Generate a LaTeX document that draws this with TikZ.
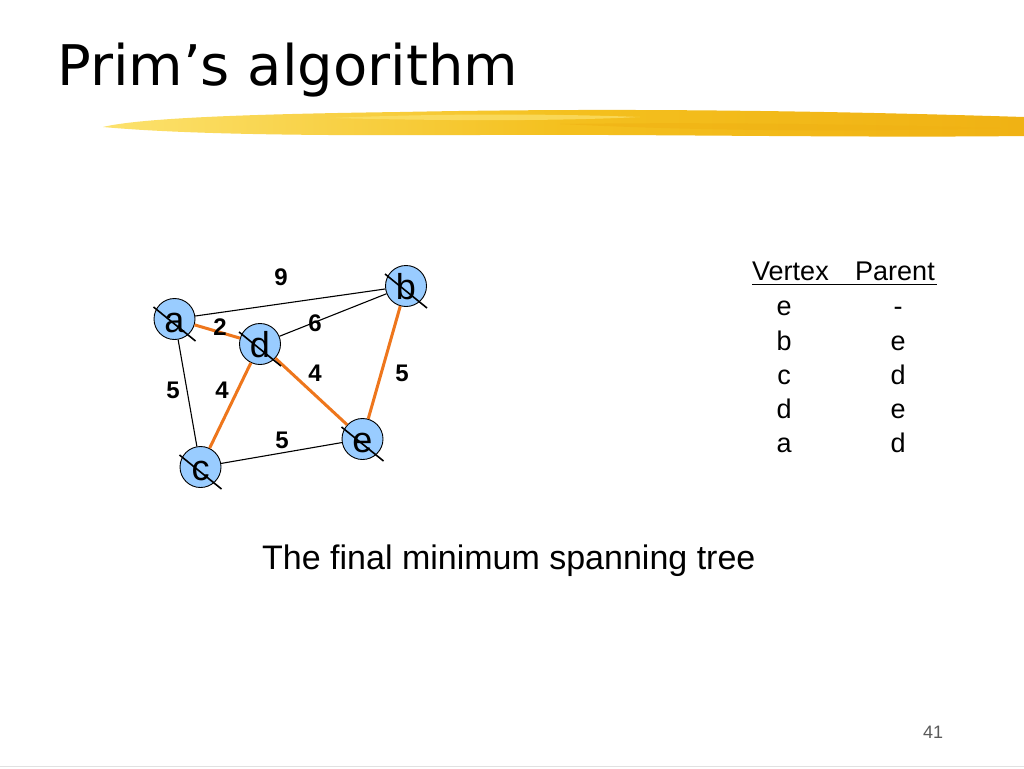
\documentclass[tikz,border=0pt]{standalone}
\usepackage{fontspec}
\setmainfont{Liberation Sans}
\newfontfamily\titlefont{DejaVu Sans}
\newfontfamily\weightfont{Liberation Sans Bold}
\usetikzlibrary{calc}
\definecolor{nodeblue}{RGB}{153,204,255}
\definecolor{mstorange}{RGB}{238,118,28}
\definecolor{brushA}{RGB}{252,226,110}
\definecolor{brushB}{RGB}{244,192,30}
\definecolor{brushC}{RGB}{240,178,20}
\definecolor{pagegray}{RGB}{90,90,90}
\tikzset{
  vtx/.style={circle, draw=black, line width=0.9pt, fill=nodeblue, minimum size=41pt, inner sep=0pt, text height=26pt, text depth=0pt, font=\fontsize{36}{36}\selectfont},
  plain/.style={draw=black, line width=1.1pt},
  tree/.style={draw=mstorange, line width=3pt},
  wlabel/.style={font=\weightfont\fontsize{24}{24}\selectfont, inner sep=0pt},
  strike/.style={draw=black, line width=1.6pt},
  tabtext/.style={font=\fontsize{27}{27}\selectfont, inner sep=0pt, anchor=base}
}
\begin{document}
\begin{tikzpicture}[x=1pt,y=-1pt]
\useasboundingbox (0,0) rectangle (1024,768);
\fill[white] (0,0) rectangle (1024,768);
% title
\node[anchor=base west, inner sep=0pt, font=\titlefont\fontsize{56}{60}\selectfont] (title) at (57,85) {Prim’s algorithm};
% brush stroke
\shade[left color=brushA, right color=brushC, middle color=brushB]
  (103,127) .. controls (140,118) and (250,114) .. (400,112)
  .. controls (600,108) and (800,110) .. (1024,117)
  -- (1024,136)
  .. controls (850,138) and (650,134) .. (480,135)
  .. controls (300,136) and (180,134) .. (103,127) -- cycle;
\fill[brushA, opacity=0.7] (330,118) .. controls (450,113) and (560,114) .. (640,117)
  .. controls (560,121) and (450,121) .. (330,118) -- cycle;
\fill[brushC, opacity=0.6] (560,124) .. controls (700,122) and (850,124) .. (1000,128)
  .. controls (850,132) and (700,131) .. (560,124) -- cycle;
% vertices
\node[vtx] (a) at (174.5,319) {a};
\node[vtx] (b) at (406,286) {b};
\node[vtx] (d) at (260,344) {d};
\node[vtx] (e) at (362.5,439) {e};
\node[vtx] (c) at (200.5,467) {c};
% edges
\draw[plain] (a) -- (b);
\draw[plain] (d) -- (b);
\draw[plain] (a) -- (c);
\draw[plain] (c) -- (e);
\draw[tree] (a) -- (d);
\draw[tree] (d) -- (e);
\draw[tree] (b) -- (e);
\draw[tree] (c) -- (d);
% strike-throughs
\foreach \v in {a,b,c,d,e}{
  \draw[strike] ($(\v.center)+(-21,-12)$) -- ($(\v.center)+(21,22)$);
}
% weights
\node[wlabel] (w9) at (281,277) {9};
\node[wlabel] (w2) at (220,327) {2};
\node[wlabel] (w6) at (315,323) {6};
\node[wlabel] (w4a) at (315,373) {4};
\node[wlabel] (w5a) at (402,373) {5};
\node[wlabel] (w5b) at (173,390) {5};
\node[wlabel] (w4b) at (222,390) {4};
\node[wlabel] (w5c) at (282,440) {5};
% table
\node[tabtext, anchor=base west] (hv) at (752,280) {Vertex};
\node[tabtext, anchor=base west] (hp) at (855,280) {Parent};
\draw[line width=1.6pt] (752,284.5) -- (937,284.5);
\node[tabtext] (v1) at (784,315) {e};
\node[tabtext] (p1) at (898,315) {-};
\node[tabtext] (v2) at (784,350) {b};
\node[tabtext] (p2) at (898,350) {e};
\node[tabtext] (v3) at (784,384) {c};
\node[tabtext] (p3) at (898,384) {d};
\node[tabtext] (v4) at (784,418) {d};
\node[tabtext] (p4) at (898,418) {e};
\node[tabtext] (v5) at (784,452) {a};
\node[tabtext] (p5) at (898,452) {d};
% caption
\node[anchor=base west, inner sep=0pt, font=\fontsize{34}{34}\selectfont] (cap) at (262,569) {The final minimum spanning tree};
% page number
\node[anchor=base, inner sep=0pt, text=pagegray, font=\fontsize{18}{18}\selectfont] (pg) at (933,738) {41};
\draw[draw={rgb,255:red,225;green,225;blue,225}, line width=1pt] (0,766.5) -- (1024,766.5);
\end{tikzpicture}
\end{document}
